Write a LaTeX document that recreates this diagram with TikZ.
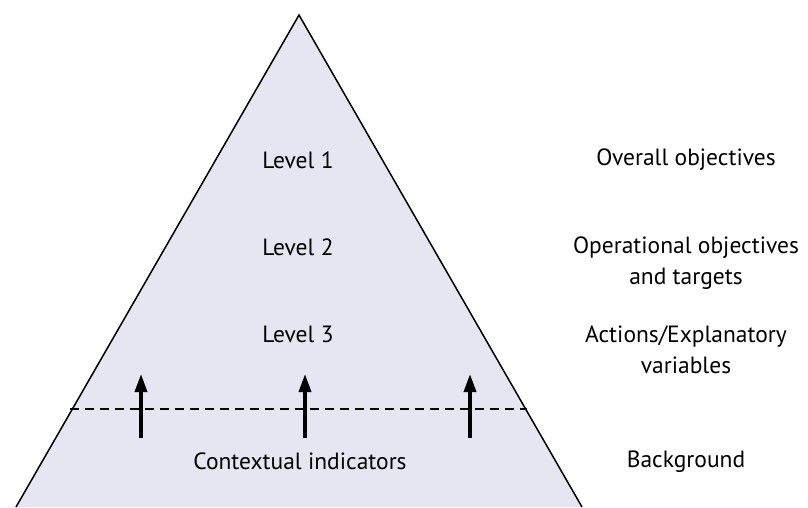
\documentclass[tikz,border=0pt]{standalone}
\usepackage{fontspec}
\setmainfont{PT Sans}
\usetikzlibrary{arrows.meta}
\definecolor{pyrfill}{RGB}{230,230,242}
\tikzset{
  lbl/.style={font=\fontsize{23.5}{30.5}\selectfont, align=center, inner sep=0pt},
  uparrow/.style={line width=3.5pt, -{Triangle[width=12pt,length=18pt]}},
  sep/.style={line width=1.3pt, dash pattern=on 9pt off 6pt},
}
\begin{document}
\begin{tikzpicture}[x=1pt,y=-1pt]
\useasboundingbox (0,0) rectangle (808,507);
\coordinate (apex) at (299,15);
\coordinate (bl) at (16,507);
\coordinate (br) at (582,507);
\fill[pyrfill] (bl) -- (apex) -- (br) -- cycle;
\draw[line width=1.5pt, line join=miter] (bl) -- (apex) -- (br);
\coordinate (dl) at (70,409);
\coordinate (dr) at (527,409);
\draw[sep] (dl) -- (dr);
\foreach \i/\x in {a/141,b/305,c/470}{
  \coordinate (s\i) at (\x,438);
  \coordinate (t\i) at (\x,374);
  \draw[uparrow] (s\i) -- (t\i);
}
\node[lbl] (l1) at (298,160) {Level 1};
\node[lbl] (l2) at (298,247) {Level 2};
\node[lbl] (l3) at (298,334) {Level 3};
\node[lbl] (ctx) at (300,461) {Contextual indicators};
\node[lbl] (r1) at (686,160) {Overall objectives};
\node[lbl] (r2) at (686,263) {Operational objectives\\and targets};
\node[lbl] (r3) at (686,350) {Actions/Explanatory\\variables};
\node[lbl] (r4) at (686,462) {Background};
\end{tikzpicture}
\end{document}
